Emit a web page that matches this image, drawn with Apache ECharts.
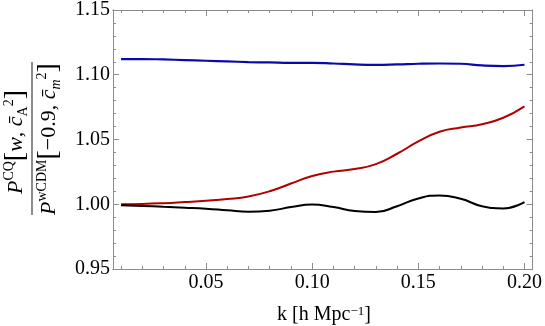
<!DOCTYPE html>
<html>
<head>
<meta charset="utf-8">
<script src="https://cdn.jsdelivr.net/npm/echarts@6/dist/echarts.min.js"></script>
<style>
html,body{margin:0;padding:0;background:#fff;}
#chart{width:545px;height:326px;}
</style>
</head>
<body>
<div id="chart"></div>
<script>
var kValues = [0.01,0.02,0.03,0.04,0.05,0.06,0.07,0.08,0.09,0.10,0.11,0.12,0.13,0.14,0.15,0.16,0.17,0.18,0.19,0.20];
var blueValues = [1.1121,1.1121,1.1118,1.1113,1.1108,1.1103,1.1098,1.1095,1.1092,1.1092,1.1087,1.1080,1.1077,1.1080,1.1085,1.1087,1.1085,1.1072,1.1067,1.1077];
var redValues = [1.0000,1.0002,1.0008,1.0017,1.0027,1.0040,1.0060,1.0100,1.0160,1.0218,1.0252,1.0272,1.0310,1.0390,1.0485,1.0560,1.0592,1.0618,1.0668,1.0756];
var blackValues = [0.9992,0.9987,0.9980,0.9973,0.9965,0.9953,0.9942,0.9950,0.9978,0.9999,0.9978,0.9948,0.9940,0.9985,1.0045,1.0068,1.0042,0.9985,0.9968,1.0016];
var xMajorTicks = [0.05,0.10,0.15,0.20];
var xMinorTicks = [0.01,0.02,0.03,0.04,0.06,0.07,0.08,0.09,0.11,0.12,0.13,0.14,0.16,0.17,0.18,0.19];
var yMajorTicks = [0.95,1.00,1.05,1.10,1.15];
var yMinorTicks = [0.96,0.97,0.98,0.99,1.01,1.02,1.03,1.04,1.06,1.07,1.08,1.09,1.11,1.12,1.13,1.14];
var xRange = [0.0062, 0.2038];
var yRange = [0.95, 1.15];

var frameColor = '#8c8c8c';
var serif = '"Liberation Serif","DejaVu Serif",serif';

function pairs(xs, ys){ return xs.map(function(x,i){return [x, ys[i]];}); }

function xAx(pos, major, showLabel){
  return {
    type:'value', position:pos, min:xRange[0], max:xRange[1],
    axisLine:{show:true, onZero:false, lineStyle:{color:frameColor, width:1}},
    axisTick:{show:true, inside:true, length: major?6:3, customValues: major?xMajorTicks:xMinorTicks, lineStyle:{color:frameColor}},
    axisLabel:{show:showLabel, customValues:xMajorTicks, margin:4, color:'#000', fontFamily:serif, fontSize:20,
      formatter:function(v){return v.toFixed(2);}},
    splitLine:{show:false}
  };
}
function yAx(pos, major, showLabel){
  return {
    type:'value', position:pos, min:yRange[0], max:yRange[1],
    axisLine:{show:true, onZero:false, lineStyle:{color:frameColor, width:1}},
    axisTick:{show:true, inside:true, length: major?6:3, customValues: major?yMajorTicks:yMinorTicks, lineStyle:{color:frameColor}},
    axisLabel:{show:showLabel, customValues:yMajorTicks, margin:3, color:'#000', fontFamily:serif, fontSize:20,
      formatter:function(v){return v.toFixed(2);}},
    splitLine:{show:false}
  };
}

var chart = echarts.init(document.getElementById('chart'), null, {renderer:'canvas'});
var itRich = {
  P:{fontFamily:serif, fontStyle:'italic', fontSize:22, color:'#000'},
  it:{fontFamily:serif, fontStyle:'italic', fontSize:22, color:'#000'},
  n:{fontFamily:serif, fontSize:22, color:'#000'},
  br:{fontFamily:serif, fontSize:28, color:'#000'},
  sup:{fontFamily:serif, fontSize:14, color:'#000', verticalAlign:'top', lineHeight:16},
  sub:{fontFamily:serif, fontSize:14, color:'#000', verticalAlign:'bottom', lineHeight:16},
  subi:{fontFamily:serif, fontStyle:'italic', fontSize:14, color:'#000', verticalAlign:'bottom', lineHeight:16}
};
chart.setOption({
  animation:false,
  backgroundColor:'#fff',
  grid:{left:113, right:10, top:9, bottom:57, containLabel:false},
  xAxis:[xAx('bottom',true,true), xAx('bottom',false,false), xAx('top',true,false), xAx('top',false,false)],
  yAxis:[yAx('left',true,true), yAx('left',false,false), yAx('right',true,false), yAx('right',false,false)],
  series:[
    {type:'line', data:pairs(kValues, blueValues), smooth:0.5, showSymbol:false, lineStyle:{color:'#0a0aa8', width:2.2}, xAxisIndex:0, yAxisIndex:0},
    {type:'line', data:pairs(kValues, redValues), smooth:0.5, showSymbol:false, lineStyle:{color:'#b00000', width:2}, xAxisIndex:0, yAxisIndex:0},
    {type:'line', data:pairs(kValues, blackValues), smooth:0.5, showSymbol:false, lineStyle:{color:'#000', width:2}, xAxisIndex:0, yAxisIndex:0}
  ],
  graphic:[
    {type:'text', x:324, y:315, style:{
      text:'{a|k [h Mpc}{s|\u22121}{a|]}', align:'center', verticalAlign:'middle', textAlign:'center', textVerticalAlign:'middle',
      rich:{a:{fontFamily:serif, fontSize:20, color:'#000'}, s:{fontFamily:serif, fontSize:13, color:'#000', verticalAlign:'top', lineHeight:14}}
    }},
    {type:'line', shape:{x1:32, y1:62, x2:32, y2:215}, style:{stroke:'#666', lineWidth:1.5}},
    {type:'text', x:16, y:142, rotation:Math.PI/2, style:{
      text:'{P|P}{sup|CQ}{br|[}{it|w}{n|, }{it|c\u0304}{sub|A}{sup|2}{br|]}',
      align:'center', verticalAlign:'middle', textAlign:'center', textVerticalAlign:'middle', rich:itRich
    }},
    {type:'text', x:49, y:139, rotation:Math.PI/2, style:{
      text:'{P|P}{sup|wCDM}{br|[}{n|\u22120.9, }{it|c\u0304}{subi|m}{sup|2}{br|]}',
      align:'center', verticalAlign:'middle', textAlign:'center', textVerticalAlign:'middle', rich:itRich
    }}
  ]
});
</script>
</body>
</html>
